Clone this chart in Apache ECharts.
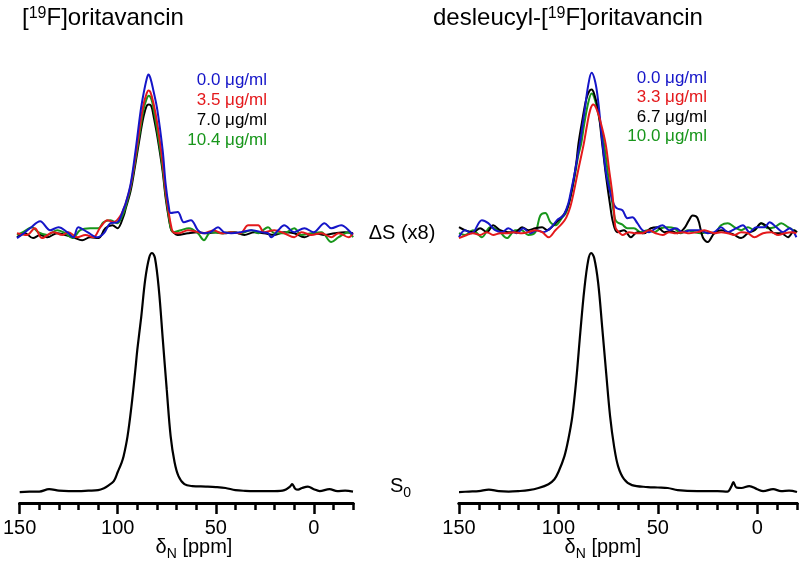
<!DOCTYPE html>
<html>
<head>
<meta charset="utf-8">
<script src="https://cdn.jsdelivr.net/npm/echarts@6/dist/echarts.min.js"></script>
<style>
html, body { margin: 0; padding: 0; background: #fff; }
#main { width: 800px; height: 568px; }
</style>
</head>
<body>
<div id="main"></div>
<script>
var FONT = '"Liberation Sans", Arial, sans-serif';

// axis ticks (ppm)
var minorTicks = [150, 140, 130, 120, 110, 100, 90, 80, 70, 60, 50, 40, 30, 20, 10, 0, -10, -20];
var majorTicks = [150, 100, 50, 0];

// concentrations
var concLeft = ['0.0 μg/ml', '3.5 μg/ml', '7.0 μg/ml', '10.4 μg/ml'];
var concRight = ['0.0 μg/ml', '3.3 μg/ml', '6.7 μg/ml', '10.0 μg/ml'];
var colors = ['#1515c8', '#e4191c', '#000000', '#18961b'];

// S0 spectra [ppm, intensity]
var leftS0 = [[150,-0.4],[145,-0.2],[140,-0.2],[135,0.8],[130,0.2],[125,0],[120,0],[115,0.2],[110,0.4],[107,1.2],[105,2.2],[102,4.2],[100,8],[98,12],[97,14.6],[95,23],[93,35.6],[91,51],[90,59.4],[88,73.2],[86,88.7],[84,97.9],[82.5,100],[81,97.9],[79,84.5],[77,63.6],[75,42.7],[73,23],[71,12.1],[69,6.3],[66,2.9],[62,2.1],[55,1.9],[50,1.7],[45,1.3],[40,0.4],[35,0.1],[30,0],[25,0],[20,0],[15,0.4],[12,2],[11,2.9],[9.5,1],[8,0.6],[6,1.3],[3,1.9],[0,0.8],[-3,0],[-8,0.8],[-12,0],[-16,0.2],[-20,-0.2]];
var rightS0 = [[150,-0.4],[145,-0.2],[140,0],[135,0.6],[130,0],[125,-0.2],[120,0],[115,0.4],[110,1.3],[105,2.9],[102,5],[100,8],[97,14.6],[95,21.8],[93,31.4],[91,46.9],[89,66.5],[87,84.5],[85,97],[83.5,100],[82,97.9],[80,87.4],[78,69],[76,49.8],[74,31.4],[72,18.8],[70,10.5],[67,5],[63,2.5],[55,1.7],[50,1.5],[45,1.3],[40,0.4],[30,0],[20,0],[15,-0.2],[13,2],[12,3.8],[10.5,1.5],[8,1.3],[4,2.1],[0,0.8],[-3,0],[-8,0.8],[-12,0],[-16,0.2],[-20,-0.4]];

// difference spectra dS (x8), left panel
var leftBlue = [[150,-2.8],[146.5,0],[143.4,2.8],[138.3,6.8],[133.2,1.7],[129,3.4],[124.6,0.6],[121.5,-2.3],[119,3.4],[114.4,0.6],[109.3,-2.3],[106,0],[102.7,5.7],[99.2,6.2],[96,14],[95,17],[92.5,28],[90,47],[87.5,69],[86,79],[84.5,87],[83.5,90],[82.5,88],[81,81],[79,70],[76.3,47],[74.8,28],[73.2,15],[72.2,11.4],[68.7,12],[65.6,6.2],[62,7.4],[58.5,1.7],[56,0],[52,0.6],[48.3,3.4],[45.3,0.6],[41.7,0],[36.6,0.6],[31.5,1.7],[26.5,0.6],[23,0],[21.4,-2.3],[18,1.5],[14.8,4.5],[9.7,0.6],[4.6,2.8],[0,0.6],[-5.6,5.7],[-9,2.8],[-14,4.5],[-19.3,0],[-20,-0.5]];
var leftRed = [[150,0],[145,-1],[141,2.8],[137.3,-2.8],[131.7,0.6],[127,-1],[124,0.6],[119.5,-2.3],[115.4,-1],[111.4,-2.3],[107.8,3.4],[104.2,7.4],[101.2,6.2],[97.6,10],[95,17],[92.5,27],[90,44],[87.5,63],[86,73],[84.5,79],[83.5,81],[82.5,80],[81,74],[79,62],[76.3,40],[74.8,24],[73,10],[72,4],[71,0.6],[68,0],[63.5,1.7],[58.5,0.6],[55.4,0],[50.4,1.7],[46.8,0],[41.7,0.6],[37,0],[33,4.5],[28,4.5],[25,0.6],[19.8,1.7],[14.8,0],[9.7,-2.3],[6.2,0.6],[1,-1],[-4,0],[-9,-2.3],[-12.7,0],[-17.8,-2.3],[-20,0]];
var leftBlack = [[150,-2.3],[146,0],[141.9,-2.8],[138.3,-1],[134.7,-2.3],[129.7,0],[125.6,-1],[121.5,-2.3],[117,-4],[113,-2.3],[108.8,-2.8],[105.3,2.8],[101.7,4.5],[99.2,2.8],[96,10],[95,14],[92.5,24],[90,40],[87.5,57],[86,66],[84.5,72],[83.3,73],[82,72],[81,67],[79,55],[76.3,35],[74.8,20],[73,7],[72,2],[71,0.6],[68.7,-1],[63.5,0],[58.5,0.6],[54,0],[49.3,0.6],[45.3,0],[40.2,0.6],[35,-1],[30,0.6],[25,0],[19.8,-1],[14.8,0.6],[9.7,0],[4.6,-2.3],[-0.5,0],[-5.6,-1],[-10.7,0],[-15.7,0.6],[-20,0]];
var leftGreen = [[150,-1],[147,0.6],[142.4,3.4],[139.3,0.6],[134.7,-1],[129.7,1.7],[125.6,0],[122,-2.8],[118,1.7],[113,2.8],[108.8,2.8],[106.3,6.2],[102.7,7.4],[99.2,5.7],[96.6,10],[95,15],[92.5,26],[90,42],[87.5,60],[86,70],[84.5,76],[83.3,78],[82,76],[81,71],[79,58],[76.3,37],[74.8,22],[73,8],[72,2],[70.7,0.6],[67.1,1.7],[63,2.8],[58.5,0],[55.4,-4],[52,0.6],[46.8,0],[41.7,0.6],[36.6,0],[31.5,1.7],[28,0],[23,3.4],[19.8,0],[14.8,0],[9.7,2.8],[6.2,-1],[1,0],[-4,0.6],[-9,-5],[-12.7,-2.3],[-17.8,0.6],[-20,-2.3]];

// difference spectra dS (x8), right panel
var rightBlue = [[150,-2.3],[147,1.7],[143.6,0],[138.5,7.4],[135.3,5.7],[131.8,1.7],[128.4,0.6],[125.2,2.8],[120.9,0],[117.7,2.8],[114.1,0],[110.8,1.7],[107.6,0.6],[104,2.8],[100.7,7.4],[97.5,10],[95,17],[94,22],[92,33],[90,46],[88.9,53],[87,68],[85,84],[83.3,91],[81.5,86],[80,75],[78,53],[76,34],[73.7,22],[72,16],[70.4,14],[67.8,13],[65.3,8.5],[62.8,9],[60.3,5.7],[57.7,1.7],[54.4,0.6],[51,2.8],[47.6,4.5],[44.3,1.7],[40.9,2.8],[37.5,0.6],[33.3,1.7],[29.1,1.7],[24.9,0],[21.6,0.6],[18.2,3.4],[14.8,0.6],[10.6,2.8],[7.2,4.5],[3.9,0.6],[0.5,3.4],[-3.7,3.4],[-6.2,6.2],[-9.6,3.4],[-13,0.6],[-16.3,2.8],[-19.7,-2.3]];
var rightRed = [[150,-2.8],[146,-1],[143,0],[139.4,-1],[136,0.6],[132.8,-1],[129.3,0],[126,0],[122.7,0.6],[118.3,0],[115.2,0.6],[111.6,1.7],[108.2,0.6],[104.9,-2.3],[101.5,1.7],[98,5.7],[96,9],[94,15],[92.4,22.7],[90,36],[87.2,51],[85.5,62],[84,70],[82.5,73],[81,71],[79,64],[76.3,51],[74.5,36],[72.9,22.7],[72,12],[71.2,3],[69,0],[67.8,-1],[64.5,0.6],[61.1,0],[57.7,0],[54.4,1.7],[51,0],[47.6,-1],[44.3,0.6],[41,0],[37.5,0.6],[34.2,0],[30,0.6],[26.6,1.7],[21.6,0],[18.2,0.6],[14.8,0],[11.5,-1],[8.1,0.6],[4.7,0],[1.4,-2.3],[-2.9,0],[-7.1,0.6],[-10.5,-1],[-13.8,0],[-17.2,0.6],[-19.7,0]];
var rightBlack = [[150,3.4],[147,1.7],[143,0.6],[139.4,2.8],[136,0.6],[132.8,4.5],[129.3,1.7],[125.2,0.6],[121.7,0.6],[118.3,3.4],[115.2,1.7],[111.6,2.8],[108.2,3.4],[105.7,1.7],[102.5,4.5],[99,8.5],[97,11],[95,16],[93,26],[91,40],[89.9,51],[88,64],[86,76],[84.5,80.5],[83.3,81.5],[82,79],[80,70],[78,51],[76,32],[74,16],[72.5,6],[70.4,0.6],[67,1.7],[63.6,-2.3],[60.3,0.6],[56.9,0],[53.5,2.8],[50.2,3.4],[46.8,0.6],[43.4,1.2],[40,0],[36.7,2.8],[34.5,7],[32.5,10],[30,8.5],[27.4,-2.3],[24.9,-5],[21.6,0],[18.2,1.7],[14.8,0.6],[11.5,-1],[8.1,-2.8],[4.7,0],[1.4,1.7],[-2,5.7],[-5.4,3.4],[-8.7,0],[-12.1,0],[-15.5,-2.3],[-18.8,1.7],[-20,0.5]];
var rightGreen = [[150,0],[147,-1],[143,1.7],[138.5,-2.3],[134.3,3.4],[130.3,1.7],[125.9,-2.8],[121.7,1.7],[118.5,1.7],[115.2,-1],[111.6,0.6],[109.1,10],[106.6,11.4],[104,6.2],[101.5,4.5],[98,9],[96,12],[94,20],[92,31],[90,44],[88.5,51],[87,62],[85,74],[83.3,79.3],[82,77],[80,68],[77.1,51],[75,33],[73,18],[71.5,8],[70.4,6.2],[68,5],[65.3,2.8],[62,2.8],[58.6,0.6],[55.2,1.7],[51.9,0.6],[48.5,2.8],[45.1,3.4],[41.7,2.8],[38.4,0],[35,1.7],[31.7,0.6],[28.3,0],[25,0.6],[21.6,0],[18.2,4.5],[14.8,5.7],[11.5,3.4],[8.1,1.7],[4.7,3.4],[1.4,1.7],[-2,5.7],[-5.4,2.8],[-8.7,3.4],[-12.1,5.7],[-15.5,3.4],[-19.7,0.6]];

var myChart = echarts.init(document.getElementById('main'));

function xAx(grid, kind) {
    var ax = {
        gridIndex: grid, type: 'value', inverse: true, min: -20, max: 150, interval: 10,
        position: 'bottom', splitLine: { show: false }
    };
    if (kind == 'hidden') {
        ax.show = false;
        return ax;
    }
    ax.axisLine = { onZero: false, lineStyle: { color: '#000', width: 3 } };
    if (kind == 'minor') {
        ax.axisTick = { customValues: minorTicks, length: 7, lineStyle: { color: '#000', width: 2.5 } };
        ax.axisLabel = { show: false };
    } else {
        ax.axisTick = { customValues: majorTicks, length: 11, lineStyle: { color: '#000', width: 2.5 } };
        ax.axisLabel = { customValues: majorTicks, color: '#000', fontSize: 20, fontFamily: FONT, margin: 15 };
    }
    return ax;
}

function yAx(grid) {
    return { gridIndex: grid, type: 'value', min: -5, max: 100, show: false };
}

function line(data, color, xi, yi, w) {
    return {
        type: 'line', data: data, xAxisIndex: xi, yAxisIndex: yi,
        showSymbol: false, smooth: 0.35, clip: false,
        lineStyle: { color: color, width: w || 2 }
    };
}

function txt(x, y, text, size, color, align) {
    return {
        type: 'text', x: x, y: y,
        style: { text: text, fontSize: size, fontFamily: FONT, fill: color || '#000', align: align || 'left', verticalAlign: 'middle' }
    };
}

function rich(x, y, text, align) {
    return {
        type: 'text', x: x, y: y,
        style: {
            text: text, align: align || 'left', verticalAlign: 'middle',
            rich: {
                a: { fontSize: 20, fontFamily: FONT, fill: '#000', verticalAlign: 'top' },
                t: { fontSize: 24, fontFamily: FONT, fill: '#000', verticalAlign: 'top' },
                sup: { fontSize: 16, fontFamily: FONT, fill: '#000', verticalAlign: 'top' },
                sub: { fontSize: 14, fontFamily: FONT, fill: '#000', verticalAlign: 'top', padding: [10, 0, 0, 0] }
            }
        }
    };
}

var graphics = [
    rich(22, 18, '{t|[}{sup|19}{t|F]oritavancin}'),
    rich(433, 18, '{t|desleucyl-[}{sup|19}{t|F]oritavancin}'),
    txt(402, 233, 'ΔS (x8)', 20, '#000', 'center'),
    rich(390, 488, '{a|S}{sub|0}'),
    rich(194, 549, '{a|δ}{sub|N}{a| [ppm]}', 'center'),
    rich(603, 549, '{a|δ}{sub|N}{a| [ppm]}', 'center')
];
for (var i = 0; i < 4; i++) {
    graphics.push(txt(267, 80 + i * 20, concLeft[i], 17, colors[i], 'right'));
    graphics.push(txt(707, 78 + i * 19.5, concRight[i], 17, colors[i], 'right'));
}

option = {
    backgroundColor: '#fff',
    animation: false,
    grid: [
        { left: 17, top: 57, width: 336, height: 185 },
        { left: 17, top: 253, width: 336, height: 250 },
        { left: 459, top: 57, width: 338, height: 185 },
        { left: 459, top: 253, width: 338, height: 250 }
    ],
    xAxis: [xAx(0, 'hidden'), xAx(1, 'minor'), xAx(1, 'major'), xAx(2, 'hidden'), xAx(3, 'minor'), xAx(3, 'major')],
    yAxis: [yAx(0), yAx(1), yAx(2), yAx(3)],
    series: [
        line(leftBlack, colors[2], 0, 0),
        line(leftGreen, colors[3], 0, 0),
        line(leftRed, colors[1], 0, 0),
        line(leftBlue, colors[0], 0, 0),
        line(leftS0, '#000', 1, 1, 2.2),
        line(rightGreen, colors[3], 3, 2),
        line(rightBlack, colors[2], 3, 2),
        line(rightBlue, colors[0], 3, 2),
        line(rightRed, colors[1], 3, 2),
        line(rightS0, '#000', 4, 3, 2.2)
    ],
    graphic: graphics
};

myChart.setOption(option);
</script>
</body>
</html>
